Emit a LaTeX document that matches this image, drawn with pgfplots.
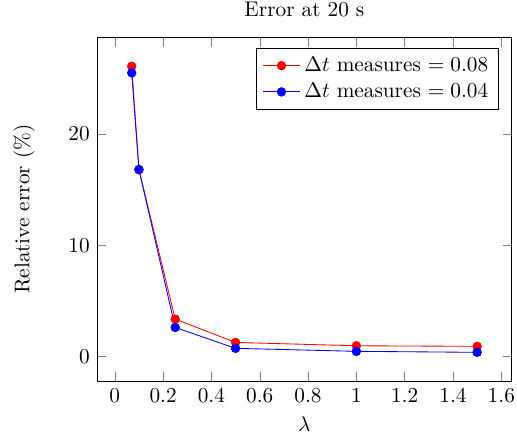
\documentclass[border=0pt]{standalone}
\usepackage{pgfplots}
\pgfplotsset{compat=1.18}
\begin{document}
\begin{tikzpicture}
\begin{axis}[
  scale only axis,
  width=195pt, height=161.5pt,
  title={Error at 20 s},
  xlabel={$\lambda$},
  ylabel={Relative error (\%)},
  ylabel shift=9pt,
  legend pos=north east,
]
\addplot[red, mark=*] coordinates {(0.07,26.1) (0.1,16.8) (0.25,3.35) (0.5,1.25) (1,0.95) (1.5,0.9)};
\addlegendentry{$\Delta t$ measures $= 0.08$}
\addplot[blue, mark=*] coordinates {(0.07,25.5) (0.1,16.8) (0.25,2.6) (0.5,0.72) (1,0.45) (1.5,0.36)};
\addlegendentry{$\Delta t$ measures $= 0.04$}
\end{axis}
\pgfresetboundingbox
\useasboundingbox ([xshift=-45.7pt,yshift=-29.1pt]current axis.south west) rectangle ([xshift=2.5pt,yshift=17.7pt]current axis.north east);
\end{tikzpicture}
\end{document}
